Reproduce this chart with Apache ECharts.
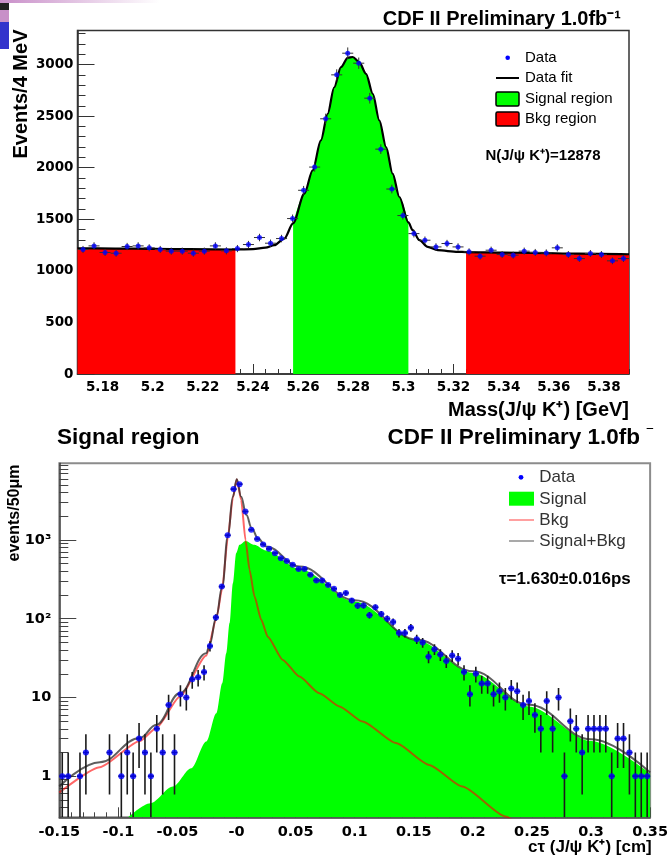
<!DOCTYPE html>
<html>
<head>
<meta charset="utf-8">
<script src="https://cdn.jsdelivr.net/npm/echarts@6/dist/echarts.min.js"></script>
<style>
html, body { margin: 0; padding: 0; background: #fff; }
#wrap { position: relative; width: 671px; height: 858px; overflow: hidden; background: #fff; }
#mass { position: absolute; left: 0; top: 0; width: 671px; height: 424px; }
#life { position: absolute; left: 0; top: 428px; width: 671px; height: 430px; }
</style>
</head>
<body>
<div id="wrap"><div id="mass"></div><div id="life"></div></div>
<script>
// ---------- B+ -> J/psi K+ invariant mass ----------
const massBins = [5.1722, 5.1766, 5.1810, 5.1854, 5.1898, 5.1942, 5.1986, 5.2030, 5.2074, 5.2118,
  5.2162, 5.2206, 5.2250, 5.2294, 5.2338, 5.2382, 5.2426, 5.2470, 5.2514, 5.2558,
  5.2602, 5.2646, 5.2690, 5.2734, 5.2778, 5.2822, 5.2866, 5.2910, 5.2954, 5.2998,
  5.3042, 5.3086, 5.3130, 5.3174, 5.3218, 5.3262, 5.3306, 5.3350, 5.3394, 5.3438,
  5.3482, 5.3526, 5.3570, 5.3614, 5.3658, 5.3702, 5.3746, 5.3790, 5.3834, 5.3878];
const massCounts = [1207, 1242, 1178, 1171, 1236, 1242, 1223, 1207, 1191, 1191,
  1171, 1191, 1242, 1194, 1216, 1255, 1323, 1268, 1313, 1507,
  1781, 2006, 2474, 2900, 3110, 3013, 2674, 2180, 1793, 1536,
  1361, 1297, 1232, 1265, 1232, 1184, 1142, 1200, 1158, 1152,
  1191, 1178, 1174, 1223, 1158, 1119, 1168, 1158, 1097, 1119];
// fitted mass shape: [mass, events]
const massFit = [[5.170, 1219], [5.185, 1216], [5.200, 1213], [5.215, 1210], [5.233, 1207],
  [5.240, 1210], [5.245, 1225], [5.2485, 1249], [5.2525, 1313], [5.256, 1460],
  [5.2605, 1749], [5.2638, 1974], [5.2671, 2265], [5.2698, 2523], [5.2724, 2780],
  [5.2751, 2974], [5.2778, 3065], [5.2798, 3073], [5.2824, 3023], [5.2851, 2910],
  [5.2878, 2716], [5.2904, 2458], [5.2931, 2200], [5.2957, 1942], [5.2984, 1716],
  [5.302, 1470], [5.3037, 1394], [5.3064, 1297], [5.3097, 1232], [5.3137, 1200],
  [5.3217, 1184], [5.325, 1182], [5.340, 1177], [5.351, 1174], [5.370, 1167], [5.390, 1161]];
const signalWindow = [5.256, 5.302];
const sidebandWindows = [[5.170, 5.233], [5.325, 5.390]];
const massTicks = [5.18, 5.20, 5.22, 5.24, 5.26, 5.28, 5.30, 5.32, 5.34, 5.36, 5.38];
const massTickLabels = ['5.18', '5.2', '5.22', '5.24', '5.26', '5.28', '5.3', '5.32', '5.34', '5.36', '5.38'];
const eventTicks = [0, 500, 1000, 1500, 2000, 2500, 3000];
const eventTickLabels = ['0', '500', '1000', '1500', '2000', '2500', '3000'];

// ---------- proper decay length in the signal region ----------
const ctBins = [-0.1475, -0.1425, -0.1325, -0.1275, -0.1075, -0.0975, -0.0925, -0.0875, -0.0825, -0.0775,
  -0.0725, -0.0675, -0.0625, -0.0575, -0.0525, -0.0475, -0.0425, -0.0375, -0.0325, -0.0275,
  -0.0225, -0.0175, -0.0125, -0.0075, -0.0025, 0.0025, 0.0075, 0.0125, 0.0175, 0.0225,
  0.0275, 0.0325, 0.0375, 0.0425, 0.0475, 0.0525, 0.0575, 0.0625, 0.0675, 0.0725,
  0.0775, 0.0825, 0.0875, 0.0925, 0.0975, 0.1025, 0.1075, 0.1125, 0.1175, 0.1225,
  0.1275, 0.1325, 0.1375, 0.1425, 0.1475, 0.1525, 0.1575, 0.1625, 0.1675, 0.1725,
  0.1775, 0.1825, 0.1875, 0.1925, 0.1975, 0.2025, 0.2075, 0.2125, 0.2175, 0.2225,
  0.2275, 0.2325, 0.2375, 0.2425, 0.2475, 0.2525, 0.2575, 0.2625, 0.2675, 0.2725,
  0.2775, 0.2825, 0.2875, 0.2925, 0.2975, 0.3025, 0.3075, 0.3125, 0.3175, 0.3225,
  0.3275, 0.3325, 0.3375, 0.3425, 0.3475];
const ctCounts = [1, 1, 1, 2, 2, 1, 2, 1, 3, 2,
  1, 4, 2, 8, 2, 11, 10, 17, 18, 21,
  45, 104, 256, 1150, 4436, 5130, 2300, 1350, 1030, 880,
  773, 681, 585, 540, 484, 427, 427, 361, 306, 306,
  269, 240, 201, 212, 170, 146, 147, 111, 140, 115,
  100, 91, 66, 66, 77, 55, 50, 33, 41, 35,
  29, 34, 31, 21, 11, 20, 15, 15, 11, 12,
  10, 13, 12, 8, 9, 6, 4, 9, 4, 10,
  1, 5, 4, 2, 4, 4, 4, 4, 1, 3,
  3, 2, 1, 1, 1];
// fit components: [ct, events]
const ctSignal = [[-0.0918, 0.3], [-0.0729, 0.454], [-0.0538, 0.74], [-0.0383, 1.26], [-0.0256, 2.75],
  [-0.0171, 6.3], [-0.0121, 15.2], [-0.0087, 36.5], [-0.0059, 88], [-0.0031, 283],
  [-0.0003, 680], [0.0025, 870], [0.0076, 975], [0.015, 870], [0.025, 735],
  [0.0532, 430], [0.1, 165], [0.153, 53], [0.2, 20.5], [0.2473, 7.7], [0.3, 2.8], [0.35, 1.08]];
const ctBkg = [[-0.15, 0.62], [-0.1157, 1.3], [-0.0819, 2.8], [-0.0678, 4.1], [-0.0481, 10.2], [-0.0256, 34],
  [-0.0171, 100], [-0.0121, 245], [-0.0074, 1080], [-0.0031, 3450], [0.0002, 5900],
  [0.0039, 3240], [0.0076, 1000], [0.011, 420], [0.0152, 191], [0.0209, 97],
  [0.0264, 59], [0.0391, 30], [0.0532, 18.4], [0.0701, 11.3], [0.087, 7.7],
  [0.1067, 4.94], [0.1349, 2.63], [0.163, 1.39], [0.1911, 0.74], [0.2277, 0.307], [0.24, 0.23]];
const ctTotal = [[-0.15, 0.74], [-0.1157, 1.5], [-0.0819, 3.05], [-0.0678, 4.5], [-0.0481, 11.3], [-0.0256, 36.5],
  [-0.0228, 46.6], [-0.0171, 107], [-0.0121, 257], [-0.0074, 1109], [-0.0031, 3560],
  [0.0002, 5940], [0.0039, 3560], [0.0082, 2090], [0.0129, 1410], [0.018, 1057],
  [0.025, 828], [0.0532, 460], [0.1, 172], [0.153, 54], [0.2, 21.5], [0.2473, 8.05],
  [0.3, 2.95], [0.35, 1.11]];
const ctTicks = [-0.15, -0.10, -0.05, 0, 0.05, 0.10, 0.15, 0.20, 0.25, 0.30, 0.35];
const ctTickLabels = ['-0.15', '-0.1', '-0.05', '-0', '0.05', '0.1', '0.15', '0.2', '0.25', '0.3', '0.35'];
const yieldTicks = [1, 10, 100, 1000];
const yieldTickLabels = ['1', '10', '10\u00b2', '10\u00b3'];
const yieldMinorTicks = [0.4, 0.5, 0.6, 0.7, 0.8, 0.9, 2, 3, 4, 5, 6, 7, 8, 9, 20, 30, 40, 50, 60, 70, 80, 90,
  200, 300, 400, 500, 600, 700, 800, 900, 2000, 3000, 4000, 5000, 6000, 7000, 8000, 9000];

// ---------- shared helpers ----------
const TICK_FONT = { fontFamily: 'DejaVu Sans', fontWeight: 'bold', fontSize: 13.5, color: '#000' };
const lookup = (ticks, labels) => v => {
  const i = ticks.findIndex(t => Math.abs(t - v) < 1e-6 * Math.max(1, Math.abs(t)));
  return i < 0 ? '' : labels[i];
};
const inRange = (pts, r) => pts.filter(p => p[0] >= r[0] - 1e-9 && p[0] <= r[1] + 1e-9);
const minorSteps = (lo, hi, step, skip) => {
  const out = [];
  for (let k = Math.round(lo / step); k * step <= hi + 1e-9; k++) {
    const v = +(k * step).toFixed(6);
    if (!skip.some(s => Math.abs(s - v) < 1e-9)) out.push(v);
  }
  return out;
};
// Poisson error bar plus bin-width bar around each histogram point
function errorBars(color, width, halfBin, floor) {
  return function (params, api) {
    const x = api.value(0), y = api.value(1), e = Math.sqrt(y);
    const c = api.coord([x, y]);
    const hi = api.coord([x, y + e]);
    const lo = api.coord([x, Math.max(y - e, floor)]);
    const l = api.coord([x - halfBin, y]);
    const r = api.coord([x + halfBin, y]);
    const st = { stroke: color, lineWidth: width };
    return {
      type: 'group', children: [
        { type: 'line', shape: { x1: c[0], y1: hi[1], x2: c[0], y2: lo[1] }, style: st },
        { type: 'line', shape: { x1: l[0], y1: c[1], x2: r[0], y2: c[1] }, style: st }
      ]
    };
  };
}
const txt = (text, x, y, font, opts) => Object.assign({
  type: 'text', x: x, y: y, silent: true,
  style: Object.assign({ text: text, font: font, fill: '#000', align: 'left', verticalAlign: 'middle' }, (opts && opts.style) || {})
}, (opts && opts.el) || {});
const minorAxis = (type, min, max, values, len, color) => ({
  type: type, min: min, max: max,
  axisLine: { show: false, onZero: false },
  axisTick: { show: true, inside: true, length: len, customValues: values, lineStyle: { color: color } },
  axisLabel: { show: false }, splitLine: { show: false }
});

// ================= mass panel =================
const massChart = echarts.init(document.getElementById('mass'), null, { renderer: 'canvas' });
const massData = massBins.map((m, i) => [m, massCounts[i]]);
massChart.setOption({
  animation: false,
  grid: { left: 77.5, right: 42, top: 30.5, bottom: 50, show: true, borderColor: '#333', borderWidth: 1.5, backgroundColor: 'transparent' },
  xAxis: [
    {
      type: 'value', min: 5.17, max: 5.39, position: 'bottom',
      axisLine: { show: true, onZero: false, lineStyle: { color: '#333', width: 1.5 } },
      axisTick: { show: true, inside: true, length: 10, customValues: massTicks, lineStyle: { color: '#333' } },
      axisLabel: Object.assign({ customValues: massTicks, margin: 6, formatter: lookup(massTicks, massTickLabels) }, TICK_FONT),
      splitLine: { show: false }
    },
    Object.assign(minorAxis('value', 5.17, 5.39, minorSteps(5.17, 5.39, 0.005, massTicks), 5, '#333'), { position: 'bottom' })
  ],
  yAxis: [
    {
      type: 'value', min: 0, max: 3330,
      axisLine: { show: true, onZero: false, lineStyle: { color: '#333', width: 1.5 } },
      axisTick: { show: true, inside: true, length: 17, customValues: eventTicks, lineStyle: { color: '#333' } },
      axisLabel: Object.assign({ customValues: eventTicks, margin: 4, formatter: lookup(eventTicks, eventTickLabels) }, TICK_FONT),
      splitLine: { show: false }
    },
    Object.assign(minorAxis('value', 0, 3330, minorSteps(0, 3330, 100, eventTicks), 8, '#333'), { position: 'left' })
  ],
  series: [
    ...sidebandWindows.map(w => ({
      name: 'Bkg region', type: 'line', data: inRange(massFit, w), smooth: 0.3, smoothMonotone: 'x',
      showSymbol: false, lineStyle: { width: 0 }, areaStyle: { color: '#ff0000', opacity: 1 }, z: 1
    })),
    {
      name: 'Signal region', type: 'line', data: inRange(massFit, signalWindow), smooth: 0.3, smoothMonotone: 'x',
      showSymbol: false, lineStyle: { width: 0 }, areaStyle: { color: '#00ff00', opacity: 1 }, z: 1
    },
    {
      name: 'Data fit', type: 'line', data: massFit, smooth: 0.3, smoothMonotone: 'x', showSymbol: false,
      lineStyle: { color: '#000', width: 2.2 }, z: 3
    },
    {
      name: 'Data errors', type: 'custom', data: massData, renderItem: errorBars('#333', 1, 0.0022, 0), z: 4, clip: true
    },
    {
      name: 'Data', type: 'scatter', data: massData, symbol: 'circle', symbolSize: 5,
      itemStyle: { color: '#0000ff' }, z: 5
    }
  ],
  graphic: [
    // slide-corner decoration
    { type: 'rect', shape: { x: 0, y: 0, width: 160, height: 3 }, silent: true,
      style: { fill: new echarts.graphic.LinearGradient(0, 0, 1, 0, [{ offset: 0, color: '#c98fc9' }, { offset: 1, color: '#ffffff' }]) } },
    { type: 'rect', shape: { x: 0, y: 3, width: 9, height: 7 }, style: { fill: '#222' }, silent: true },
    { type: 'rect', shape: { x: 0, y: 10, width: 9, height: 12 }, style: { fill: '#c890c8' }, silent: true },
    { type: 'rect', shape: { x: 0, y: 22, width: 9, height: 27 }, style: { fill: '#3333cc' }, silent: true },
    txt('CDF II Preliminary 1.0fb\u207b\u00b9', 621, 19, 'bold 20px "Liberation Sans"', { style: { align: 'right' } }),
    txt('Events/4 MeV', 21, 94, 'bold 20px "Liberation Sans"', { style: { align: 'center' }, el: { rotation: Math.PI / 2 } }),
    txt('Mass(J/\u03c8 K\u207a) [GeV]', 629, 410.5, 'bold 20px "Liberation Sans"', { style: { align: 'right' } }),
    // legend
    { type: 'circle', shape: { cx: 507.7, cy: 57.7, r: 2.3 }, style: { fill: '#0000ff' }, silent: true },
    txt('Data', 525, 57.5, '15px "Liberation Sans"'),
    { type: 'line', shape: { x1: 496, y1: 78, x2: 519, y2: 78 }, style: { stroke: '#000', lineWidth: 2 }, silent: true },
    txt('Data fit', 525, 78, '15px "Liberation Sans"'),
    { type: 'rect', shape: { x: 496, y: 92, width: 23, height: 14, r: 1.5 }, style: { fill: '#00ff00', stroke: '#000', lineWidth: 1.5 }, silent: true },
    txt('Signal region', 525, 99, '15px "Liberation Sans"'),
    { type: 'rect', shape: { x: 496, y: 112, width: 23, height: 14, r: 1.5 }, style: { fill: '#ff0000', stroke: '#000', lineWidth: 1.5 }, silent: true },
    txt('Bkg region', 525, 119, '15px "Liberation Sans"'),
    txt('N(J/\u03c8 K\u207a)=12878', 543, 156, 'bold 15px "Liberation Sans"', { style: { align: 'center' } })
  ]
});

// ================= lifetime panel =================
const lifeChart = echarts.init(document.getElementById('life'), null, { renderer: 'canvas' });
const ctData = ctBins.map((c, i) => [c, ctCounts[i]]);
const Y_MIN = 0.3, Y_MAX = 9440;
const LIFE_TICK_FONT = Object.assign({}, TICK_FONT, { fontSize: 14.5 });
lifeChart.setOption({
  animation: false,
  grid: { left: 59.3, right: 19.3, top: 35.3, bottom: 40.7, show: true, borderColor: '#8c8c8c', borderWidth: 2, backgroundColor: 'transparent' },
  xAxis: [
    {
      type: 'value', min: -0.15, max: 0.35, position: 'bottom',
      axisLine: { show: true, onZero: false, lineStyle: { color: '#444', width: 1.5 } },
      axisTick: { show: true, inside: true, length: 10, customValues: ctTicks, lineStyle: { color: '#444' } },
      axisLabel: Object.assign({ customValues: ctTicks, margin: 7, formatter: lookup(ctTicks, ctTickLabels) }, LIFE_TICK_FONT),
      splitLine: { show: false }
    },
    Object.assign(minorAxis('value', -0.15, 0.35, minorSteps(-0.15, 0.35, 0.01, ctTicks), 5, '#444'), { position: 'bottom' })
  ],
  yAxis: [
    {
      type: 'log', logBase: 10, min: Y_MIN, max: Y_MAX,
      axisLine: { show: true, onZero: false, lineStyle: { color: '#444', width: 1.5 } },
      axisTick: { show: true, inside: true, length: 17, customValues: yieldTicks, lineStyle: { color: '#444' } },
      axisLabel: Object.assign({ customValues: yieldTicks, margin: 8, formatter: lookup(yieldTicks, yieldTickLabels) }, LIFE_TICK_FONT),
      splitLine: { show: false }
    },
    Object.assign(minorAxis('log', Y_MIN, Y_MAX, yieldMinorTicks, 9, '#444'), { logBase: 10, position: 'left' })
  ],
  series: [
    {
      name: 'Signal', type: 'line', data: ctSignal, smooth: 0.3, smoothMonotone: 'x', showSymbol: false,
      lineStyle: { width: 0 }, areaStyle: { color: '#00ff00', opacity: 1 }, z: 1
    },
    {
      name: 'Bkg', type: 'line', data: ctBkg, smooth: 0.2, smoothMonotone: 'x', showSymbol: false,
      lineStyle: { color: 'rgba(255,0,0,0.6)', width: 2 }, z: 2
    },
    {
      name: 'Signal+Bkg', type: 'line', data: ctTotal, smooth: 0.4, smoothMonotone: 'x', showSymbol: false,
      lineStyle: { color: 'rgba(40,40,40,0.75)', width: 2 }, z: 3
    },
    {
      name: 'Data errors', type: 'custom', data: ctData, renderItem: errorBars('#1a1a1a', 1.6, 0.0025, Y_MIN), z: 4, clip: true
    },
    {
      name: 'Data', type: 'scatter', data: ctData, symbol: 'circle', symbolSize: 6,
      itemStyle: { color: '#0000ff' }, z: 5
    }
  ],
  graphic: [
    txt('Signal region', 57, 9.5, 'bold 22.5px "Liberation Sans"'),
    txt('CDF II Preliminary 1.0fb', 640, 9.5, 'bold 22.5px "Liberation Sans"', { style: { align: 'right' } }),
    txt('-1', 641, -3, 'bold 14px "Liberation Sans"'),
    txt('events/50\u03bcm', 15, 85, 'bold 16px "Liberation Sans"', { style: { align: 'center' }, el: { rotation: Math.PI / 2 } }),
    txt('c\u03c4 (J/\u03c8 K\u207a) [cm]', 651.7, 419, 'bold 17px "Liberation Sans"', { style: { align: 'right' } }),
    // legend
    { type: 'circle', shape: { cx: 521, cy: 49.3, r: 2.4 }, style: { fill: '#0000ff' }, silent: true },
    txt('Data', 539.3, 49.3, '17px "Liberation Sans"', { style: { fill: '#333' } }),
    { type: 'rect', shape: { x: 509, y: 63.7, width: 25, height: 14 }, style: { fill: '#00ff00' }, silent: true },
    txt('Signal', 539.3, 71.3, '17px "Liberation Sans"', { style: { fill: '#333' } }),
    { type: 'line', shape: { x1: 509, y1: 92, x2: 534, y2: 92 }, style: { stroke: '#ff8080', lineWidth: 1.5 }, silent: true },
    txt('Bkg', 539.3, 92, '17px "Liberation Sans"', { style: { fill: '#333' } }),
    { type: 'line', shape: { x1: 509, y1: 113, x2: 534, y2: 113 }, style: { stroke: '#8c8c8c', lineWidth: 1.5 }, silent: true },
    txt('Signal+Bkg', 539.3, 113, '17px "Liberation Sans"', { style: { fill: '#333' } }),
    txt('\u03c4=1.630\u00b10.016ps', 499, 151, 'bold 17px "Liberation Sans"')
  ]
});
</script>
</body>
</html>
